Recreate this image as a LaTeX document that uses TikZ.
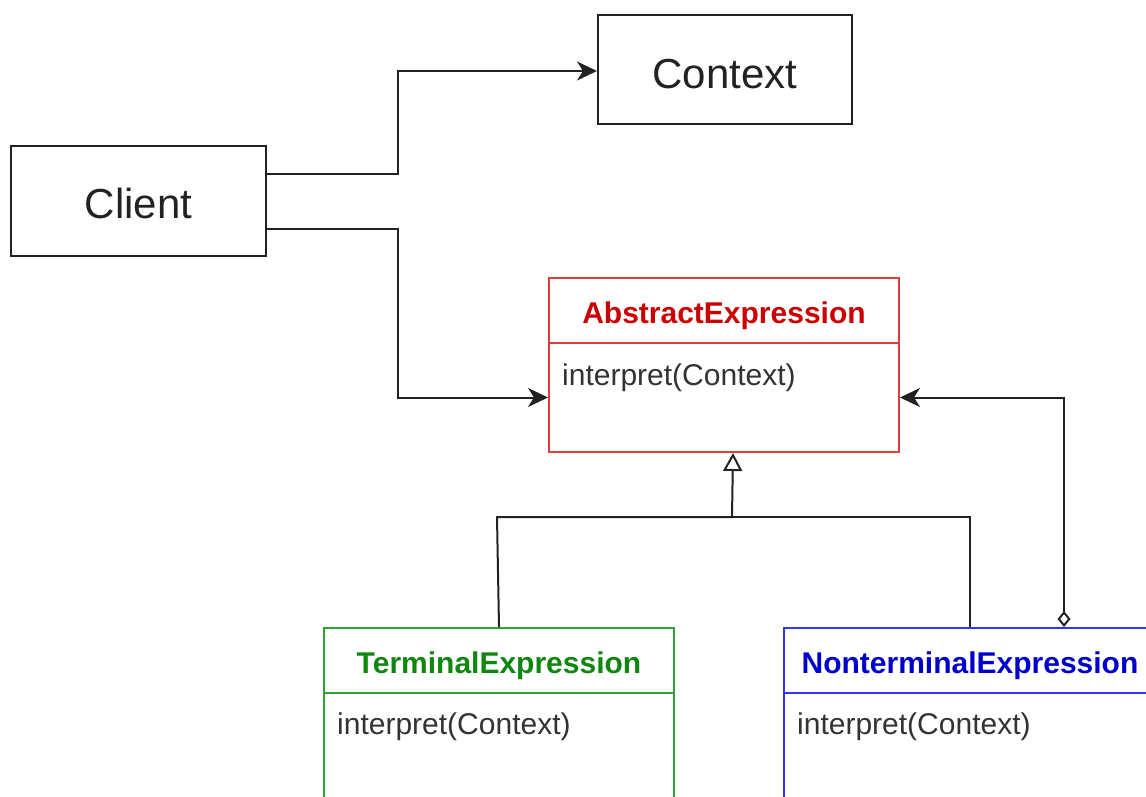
\documentclass[tikz,border=0pt]{standalone}
\usepackage{fontspec}
\setmainfont{Liberation Sans}
\usetikzlibrary{arrows.meta}
\definecolor{redT}{HTML}{CC0000}
\definecolor{redB}{HTML}{E03C3C}
\definecolor{greenT}{HTML}{0F870F}
\definecolor{greenB}{HTML}{35A035}
\definecolor{blueT}{HTML}{0000CC}
\definecolor{blueB}{HTML}{3333FF}
\definecolor{methT}{HTML}{333333}
\definecolor{lineC}{HTML}{222222}
\tikzset{
  plainbox/.style={draw=lineC, line width=2pt, inner sep=0pt, anchor=north west, font=\fontsize{42}{50}\selectfont, text=lineC, text depth=0pt},
  headbox/.style={line width=2pt, minimum height=65pt, inner sep=0pt, anchor=north west, font=\fontsize{30}{36}\selectfont\bfseries, text height=25pt, text depth=0pt},
  bodybox/.style={line width=2pt, inner sep=0pt, anchor=north west},
  meth/.style={text=methT, anchor=base west, inner sep=0pt, font=\fontsize{30}{36}\selectfont},
  conn/.style={draw=lineC, line width=2pt},
  tipA/.tip={Stealth[length=20pt, width=19pt, inset=6pt]},
  arr/.style={conn, -tipA},
}
\begin{document}
\begin{tikzpicture}[x=1pt,y=-1pt]
\useasboundingbox (0,0) rectangle (1146,797);
\clip (0,0) rectangle (1146,797);
% plain boxes
\node[plainbox, minimum width=254pt, minimum height=109pt, text height=39pt] (context) at (597,14) {Context};
\node[plainbox, minimum width=255pt, minimum height=110pt, text height=34pt] (client) at (10,145) {Client};
% AbstractExpression
\node[headbox, draw=redB, text=redT, minimum width=350pt] (absH) at (548,277) {AbstractExpression};
\node[bodybox, draw=redB, minimum width=350pt, minimum height=109pt] (absB) at (548,342) {};
\node[meth] (absM) at (562,385) {interpret(Context)};
% TerminalExpression
\node[headbox, draw=greenB, text=greenT, minimum width=350pt] (termH) at (323,627) {TerminalExpression};
\node[bodybox, draw=greenB, minimum width=350pt, minimum height=160pt] (termB) at (323,692) {};
\node[meth] (termM) at (337,734) {interpret(Context)};
% NonterminalExpression
\node[headbox, draw=blueB, text=blueT, minimum width=372pt] (ntH) at (783,627) {NonterminalExpression};
\node[bodybox, draw=blueB, minimum width=372pt, minimum height=160pt] (ntB) at (783,692) {};
\node[meth] (ntM) at (797,734) {interpret(Context)};
% connectors
\draw[arr] ([yshift=27pt]client.east) -- ++(131,0) |- ([yshift=-1.5pt]context.west);
\draw[arr] ([yshift=-28pt]client.east) -- ++(131,0) |- (absB.west);
\coordinate (j) at (732,517);
\draw[conn, -{Triangle[open, length=18pt, width=19pt]}] (termH.north) -- ++(-2,-110) -- (j) -- ([xshift=9pt]absB.south);
\draw[conn] (ntH.north) |- (j);
\draw[conn, {Diamond[open, length=16pt, width=13pt]}-tipA] ([xshift=94pt]ntH.north) |- (absB.east);
\end{tikzpicture}
\end{document}
